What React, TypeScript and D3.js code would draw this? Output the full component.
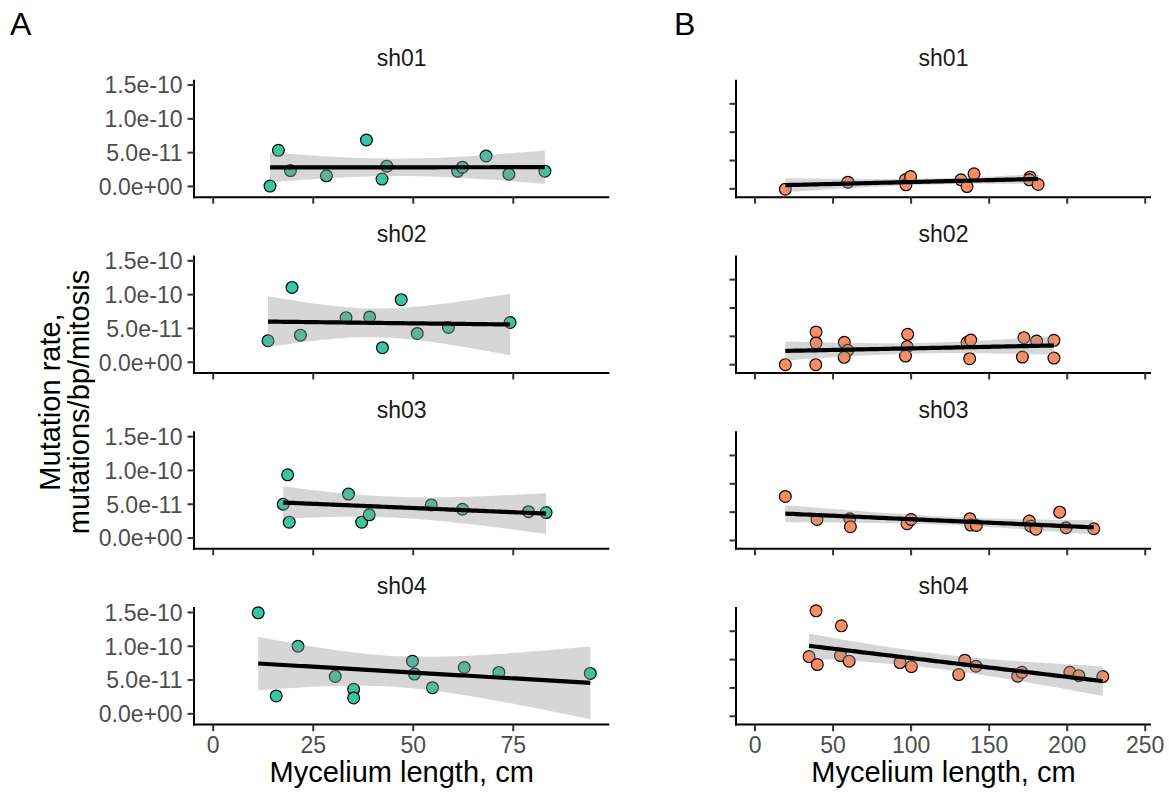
import React from 'react';
import * as d3 from 'd3';

const facets = ['sh01', 'sh02', 'sh03', 'sh04'];

// Panel A: mycelium length (cm) and mutation rate (mutations/bp/mitosis)
const aSh01X = [14.2, 16.3, 19.3, 28.3, 38.3, 42.2, 43.4, 61.1, 62.3, 68.2, 73.9, 82.9];
const aSh01Y = [0.05e-11, 5.35e-11, 2.35e-11, 1.57e-11, 6.87e-11, 1.09e-11, 3.0e-11, 2.26e-11, 2.85e-11, 4.5e-11, 1.82e-11, 2.26e-11];
const aSh02X = [13.7, 19.7, 21.8, 33.2, 39.1, 42.3, 47.0, 51.0, 58.8, 74.2];
const aSh02Y = [3.18e-11, 11.07e-11, 4.01e-11, 6.6e-11, 6.7e-11, 2.15e-11, 9.26e-11, 4.26e-11, 5.15e-11, 5.88e-11];
const aSh03X = [17.5, 18.6, 19.0, 33.8, 37.1, 39.0, 54.5, 62.3, 78.8, 83.2];
const aSh03Y = [5.0e-11, 9.35e-11, 2.35e-11, 6.51e-11, 2.35e-11, 3.43e-11, 4.9e-11, 4.26e-11, 3.9e-11, 3.77e-11];
const aSh04X = [11.25, 15.75, 21.2, 30.5, 35.1, 35.1, 49.8, 50.3, 54.8, 62.75, 71.4, 94.25];
const aSh04Y = [14.95e-11, 2.65e-11, 10.0e-11, 5.54e-11, 3.63e-11, 2.35e-11, 7.79e-11, 5.88e-11, 3.87e-11, 6.86e-11, 6.13e-11, 5.98e-11];

// Panel B
const bSh01X = [19.4, 59.5, 96.3, 96.7, 99.7, 131.9, 135.8, 140.3, 176.2, 175.8, 181.4];
const bSh01Y = [-0.05e-11, 1.18e-11, 1.59e-11, 0.71e-11, 2.17e-11, 1.59e-11, 0.41e-11, 2.65e-11, 2.07e-11, 1.59e-11, 0.77e-11];
const bSh02X = [19.4, 39.1, 39.1, 38.9, 57.2, 59.4, 57.1, 97.8, 97.4, 96.4, 135.8, 138.2, 137.5, 172.3, 180.4, 171.3, 191.5, 191.5];
const bSh02Y = [0, 5.77e-11, 3.83e-11, 0, 3.94e-11, 2.53e-11, 1.29e-11, 5.35e-11, 3.18e-11, 1.52e-11, 3.89e-11, 4.35e-11, 1.06e-11, 4.77e-11, 4.17e-11, 1.34e-11, 4.29e-11, 1.17e-11];
const bSh03X = [19.4, 39.7, 60.7, 61.1, 97.4, 100, 137.7, 138.2, 141.8, 175.7, 176.6, 180, 195.2, 199.3, 217];
const bSh03Y = [7.77e-11, 3.71e-11, 3.83e-11, 2.42e-11, 2.95e-11, 3.71e-11, 3.83e-11, 2.71e-11, 2.65e-11, 3.42e-11, 2.53e-11, 2.0e-11, 5.0e-11, 2.24e-11, 2.07e-11];
const bSh04X = [39.1, 55.3, 34.6, 39.9, 54.7, 60.3, 92.9, 100.2, 130.5, 134.4, 141.6, 168.3, 171, 201.7, 207.5, 222.8];
const bSh04Y = [18.6e-11, 15.95e-11, 10.53e-11, 9.12e-11, 10.71e-11, 9.72e-11, 9.47e-11, 8.76e-11, 7.35e-11, 9.89e-11, 8.83e-11, 7.07e-11, 7.77e-11, 7.77e-11, 7.17e-11, 7.0e-11];

const aXTicks = [0, 25, 50, 75];
const bXTicks = [0, 50, 100, 150, 200, 250];
const yTicks = [0, 5e-11, 1e-10, 1.5e-10];
const yTickLabels = ['0.0e+00', '5.0e-11', '1.0e-10', '1.5e-10'];

const aXDomain = [-4.8, 99.0];
const bXDomain = [-12.2, 253.7];
const aYDomain = [-0.159e-10, 1.579e-10];
const bYDomain = [-0.147e-10, 1.926e-10];

const T975 = [NaN, 12.706, 4.303, 3.182, 2.776, 2.571, 2.447, 2.365, 2.306, 2.262, 2.228, 2.201, 2.179, 2.16, 2.145, 2.131, 2.12, 2.11, 2.101, 2.093, 2.086, 2.08, 2.074, 2.069, 2.064, 2.06];

const FONT = "'Liberation Sans', Arial, Helvetica, sans-serif";
const PANEL_TOP = 79.7;
const FACET_STEP = 175.8;
const PANEL_H = 117.5;
const TICK = 6.5;

function lmSmooth(xs: number[], ys: number[]) {
  const n = xs.length;
  const mx = d3.mean(xs) as number;
  const my = d3.mean(ys) as number;
  let sxx = 0, sxy = 0;
  for (let i = 0; i < n; i++) { sxx += (xs[i] - mx) ** 2; sxy += (xs[i] - mx) * (ys[i] - my); }
  const b = sxy / sxx; const a = my - b * mx;
  let sse = 0;
  for (let i = 0; i < n; i++) sse += (ys[i] - a - b * xs[i]) ** 2;
  const s = Math.sqrt(sse / (n - 2));
  const t = T975[n - 2] || 1.96;
  const [x0, x1] = d3.extent(xs) as [number, number];
  return d3.range(80).map(i => {
    const x = x0 + (x1 - x0) * i / 79;
    const fit = a + b * x;
    const se = s * Math.sqrt(1 / n + (x - mx) ** 2 / sxx);
    return { x, fit, lo: fit - t * se, hi: fit + t * se };
  });
}

type PanelProps = {
  xs: number[][]; ys: number[][]; left: number; right: number;
  xDomain: number[]; yDomain: number[]; xTicks: number[]; fill: string; yLabels: boolean;
};

function Panel(p: PanelProps) {
  const x = d3.scaleLinear().domain(p.xDomain).range([p.left, p.right]);
  return (
    <g>
      {facets.map((f, i) => {
        const top = PANEL_TOP + i * FACET_STEP;
        const bottom = top + PANEL_H;
        const y = d3.scaleLinear().domain(p.yDomain).range([bottom, top]);
        const sm = lmSmooth(p.xs[i], p.ys[i]);
        const area = d3.area<any>().x(d => x(d.x)).y0(d => y(d.lo)).y1(d => y(d.hi));
        const line = d3.line<any>().x(d => x(d.x)).y(d => y(d.fit));
        const last = i === facets.length - 1;
        return (
          <g key={f}>
            <text x={(p.left + p.right) / 2} y={top - 13.5} textAnchor="middle" fontSize={23} fill="#1a1a1a" fontFamily={FONT}>{f}</text>
            {p.xs[i].map((xv, j) => (
              <circle key={j} cx={x(xv)} cy={y(p.ys[i][j])} r={5.9} fill={p.fill} stroke="#000" strokeWidth={1.2} />
            ))}
            <path d={area(sm) as string} fill="#999999" fillOpacity={0.4} />
            <path d={line(sm) as string} fill="none" stroke="#000" strokeWidth={4.2} />
            <line x1={p.left} x2={p.left} y1={top} y2={bottom + 1} stroke="#000" strokeWidth={2} />
            <line x1={p.left - 1} x2={p.right} y1={bottom} y2={bottom} stroke="#000" strokeWidth={2} />
            {yTicks.map((t, k) => (
              <g key={k}>
                <line x1={p.left - TICK} x2={p.left} y1={y(t)} y2={y(t)} stroke="#333" strokeWidth={2} />
                {p.yLabels && (
                  <text x={p.left - TICK - 5} y={y(t)} dy="0.36em" textAnchor="end" fontSize={23} fill="#4d4d4d" fontFamily={FONT}>{yTickLabels[k]}</text>
                )}
              </g>
            ))}
            {p.xTicks.map((t, k) => (
              <g key={k}>
                <line x1={x(t)} x2={x(t)} y1={bottom} y2={bottom + TICK} stroke="#333" strokeWidth={2} />
                {last && (
                  <text x={x(t)} y={bottom + TICK + 22} textAnchor="middle" fontSize={23} fill="#4d4d4d" fontFamily={FONT}>{t}</text>
                )}
              </g>
            ))}
          </g>
        );
      })}
      <text x={(p.left + p.right) / 2} y={782} textAnchor="middle" fontSize={29} fill="#000" fontFamily={FONT}>Mycelium length, cm</text>
    </g>
  );
}

export default function App() {
  return (
    <svg width={1169} height={792} style={{ position: 'absolute', left: 0, top: 0, background: '#fff' }}>
      <rect width={1169} height={792} fill="#fff" />
      <text x={10} y={35} fontSize={32} fontFamily={FONT} fill="#000">A</text>
      <text x={674} y={35} fontSize={32} fontFamily={FONT} fill="#000">B</text>
      <g transform="translate(60,402) rotate(-90)">
        <text x={0} y={0} textAnchor="middle" fontSize={29} fontFamily={FONT} fill="#000">Mutation rate,</text>
        <text x={0} y={29} textAnchor="middle" fontSize={29} fontFamily={FONT} fill="#000">mutations/bp/mitosis</text>
      </g>
      <Panel xs={[aSh01X, aSh02X, aSh03X, aSh04X]} ys={[aSh01Y, aSh02Y, aSh03Y, aSh04Y]} left={194} right={609.3}
        xDomain={aXDomain} yDomain={aYDomain} xTicks={aXTicks} fill="#36c6a1" yLabels={true} />
      <Panel xs={[bSh01X, bSh02X, bSh03X, bSh04X]} ys={[bSh01Y, bSh02Y, bSh03Y, bSh04Y]} left={736} right={1151}
        xDomain={bXDomain} yDomain={bYDomain} xTicks={bXTicks} fill="#fc8d62" yLabels={false} />
    </svg>
  );
}
